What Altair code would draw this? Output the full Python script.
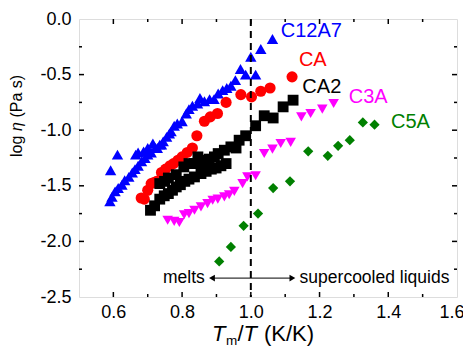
import altair as alt
import pandas as pd

# ---------------- data ----------------
series_names = ["C12A7", "CA", "CA2", "C3A", "C5A"]
series_colors = ["#0000ff", "#ff0000", "#000000", "#ff00ff", "#008000"]
series_shapes = ["triangle-up", "circle", "square", "triangle-down", "diamond"]

c12a7_x = [0.590, 0.596, 0.605, 0.614, 0.625, 0.633, 0.645, 0.655, 0.663, 0.672,
           0.682, 0.692, 0.700, 0.710, 0.722, 0.735, 0.745, 0.755, 0.763,
           0.592, 0.612, 0.665, 0.672, 0.688, 0.700, 0.715, 0.728, 0.740, 0.768,
           0.777, 0.786, 0.800, 0.812, 0.820, 0.830, 0.845, 0.852, 0.865, 0.880,
           0.893, 0.905, 0.918, 0.930, 0.942, 0.955, 0.970, 0.985, 1.000, 1.014,
           1.029, 1.063]
c12a7_y = [-1.64, -1.60, -1.55, -1.52, -1.49, -1.45, -1.42, -1.38, -1.35, -1.32,
           -1.28, -1.25, -1.22, -1.20, -1.16, -1.13, -1.10, -1.06, -1.03,
           -1.36, -1.22, -1.22, -1.20, -1.19, -1.16, -1.12, -1.16, -1.13, -1.01,
           -0.96, -0.94, -0.92, -0.85, -0.81, -0.78, -0.76, -0.71, -0.74, -0.72,
           -0.72, -0.67, -0.64, -0.62, -0.60, -0.55, -0.45, -0.50, -0.34, -0.50,
           -0.27, -0.18]

ca_x = [0.681, 0.690, 0.700, 0.710, 0.718, 0.726, 0.740, 0.752, 0.765, 0.775,
        0.788, 0.800, 0.815, 0.830, 0.843, 0.865, 0.882, 0.903, 0.928, 0.971,
        1.002, 1.029, 1.056, 1.120]
ca_y = [-1.61, -1.62, -1.54, -1.48, -1.47, -1.46, -1.38, -1.35, -1.32, -1.30,
        -1.27, -1.24, -1.20, -1.16, -1.05, -0.92, -0.88, -0.85, -0.75, -0.68,
        -0.70, -0.65, -0.62, -0.52]

ca2_x = [0.708, 0.720, 0.735, 0.748, 0.760, 0.772, 0.783, 0.795, 0.808, 0.820,
         0.836, 0.855, 0.870, 0.885, 0.899, 0.913, 0.928,
         0.735, 0.749, 0.760, 0.783, 0.805, 0.820, 0.836, 0.846, 0.865, 0.872,
         0.879, 0.894, 0.905, 0.923, 0.942, 0.957, 0.966, 0.985, 1.014, 1.039,
         1.065, 1.094, 1.123]
ca2_y = [-1.72, -1.68, -1.62, -1.59, -1.57, -1.54, -1.51, -1.49, -1.46, -1.44,
         -1.42, -1.39, -1.37, -1.35, -1.34, -1.32, -1.30,
         -1.48, -1.46, -1.43, -1.40, -1.33, -1.30, -1.30, -1.24, -1.31, -1.27,
         -1.26, -1.24, -1.21, -1.18, -1.15, -1.16, -1.09, -1.05, -0.96, -0.87,
         -0.89, -0.79, -0.73]

c3a_x = [0.758, 0.777, 0.792, 0.806, 0.820, 0.836, 0.855, 0.874, 0.889, 0.904,
         0.923, 0.937, 0.952, 0.976, 0.990, 1.014, 1.039, 1.063, 1.087, 1.116,
         1.147, 1.174, 1.208, 1.241]
c3a_y = [-1.81, -1.82, -1.83, -1.76, -1.75, -1.72, -1.69, -1.66, -1.63, -1.62,
         -1.60, -1.58, -1.55, -1.48, -1.42, -1.41, -1.21, -1.17, -1.12, -1.11,
         -0.88, -0.85, -0.81, -0.76]

c5a_x = [0.908, 0.942, 0.979, 1.021, 1.065, 1.114, 1.167, 1.224, 1.254, 1.288,
         1.326, 1.360]
c5a_y = [-2.18, -2.05, -1.86, -1.75, -1.52, -1.46, -1.19, -1.23, -1.14, -1.09,
         -0.93, -0.95]

label_x = [1.087, 1.140, 1.150, 1.285, 1.408]
label_y = [-0.11, -0.37, -0.61, -0.70, -0.93]

x_tick_values = [0.6, 0.8, 1.0, 1.2, 1.4, 1.6]
y_tick_values = [-2.5, -2.0, -1.5, -1.0, -0.5, 0.0]
x_minor = [0.7, 0.9, 1.1, 1.3, 1.5]
y_minor = [-2.25, -1.75, -1.25, -0.75, -0.25]
x_major_inner = [0.6, 0.8, 1.0, 1.2, 1.4]
y_major_inner = [-2.0, -1.5, -1.0, -0.5]

melt_line = 1.0
arrow_y = -2.33
arrow_left = 0.887
arrow_right = 1.121
melts_text_x = 0.866
super_text_x = 1.142

# ---------------- build ----------------
W, H = 378, 278
FONT = "Liberation Sans"

rows = []
for name, xs_, ys_ in zip(series_names,
                          [c12a7_x, ca_x, ca2_x, c3a_x, c5a_x],
                          [c12a7_y, ca_y, ca2_y, c3a_y, c5a_y]):
    for a, b in zip(xs_, ys_):
        rows.append({"x": a, "y": b, "series": name})
pts = pd.DataFrame(rows)
labels = pd.DataFrame({"x": label_x, "y": label_y, "series": series_names})

xs = alt.Scale(domain=[0.5, 1.6], nice=False, zero=False)
ys = alt.Scale(domain=[-2.5, 0.0], nice=False, zero=False)
col = alt.Scale(domain=series_names, range=series_colors)

xaxis = alt.Axis(values=x_tick_values, format=".1f", labelFontSize=18, tickSize=0,
                 domain=False, grid=False, title=None, labelPadding=6,
                 labelFlush=True, labelFlushOffset=7,
                 labelColor="black", labelFont=FONT)
yaxis = alt.Axis(values=y_tick_values, labelFontSize=18, tickSize=0,
                 labelExpr="datum.value < 0 ? '-' + format(-datum.value, '.1f') : format(datum.value, '.1f')",
                 domain=False, grid=False, title=None, labelPadding=8, labelFlush=False,
                 labelColor="black", labelFont=FONT)

points = alt.Chart(pts).mark_point(filled=True, opacity=1).encode(
    x=alt.X("x:Q", scale=xs, axis=xaxis),
    y=alt.Y("y:Q", scale=ys, axis=yaxis),
    color=alt.Color("series:N", scale=col, legend=None),
    shape=alt.Shape("series:N", scale=alt.Scale(domain=series_names, range=series_shapes), legend=None),
    size=alt.Size("series:N", scale=alt.Scale(domain=series_names, range=[130, 105, 85, 130, 125]), legend=None),
)

text_labels = alt.Chart(labels).mark_text(align="left", baseline="middle", fontSize=20, font=FONT).encode(
    x=alt.X("x:Q", scale=xs, axis=None),
    y=alt.Y("y:Q", scale=ys, axis=None),
    text="series:N",
    color=alt.Color("series:N", scale=col, legend=None),
)


def xtick_layer(vals, y0, y1):
    return alt.Chart(pd.DataFrame({"v": vals})).mark_rule(color="black", strokeWidth=1.5).encode(
        x=alt.X("v:Q", scale=xs, axis=None), y=alt.value(y0), y2=alt.value(y1))


def ytick_layer(vals, x0, x1):
    return alt.Chart(pd.DataFrame({"v": vals})).mark_rule(color="black", strokeWidth=1.5).encode(
        y=alt.Y("v:Q", scale=ys, axis=None), x=alt.value(x0), x2=alt.value(x1))


ticks = [
    xtick_layer(x_major_inner, H, H - 5), xtick_layer(x_minor, H, H - 3),
    xtick_layer(x_major_inner, 0, 5), xtick_layer(x_minor, 0, 3),
    ytick_layer(y_major_inner, 0, 5), ytick_layer(y_minor, 0, 3),
    ytick_layer(y_major_inner, W, W - 5), ytick_layer(y_minor, W, W - 3),
]

dashed = alt.Chart(pd.DataFrame({"v": [melt_line]})).mark_rule(
    color="black", strokeWidth=2, strokeDash=[7, 5]).encode(x=alt.X("v:Q", scale=xs, axis=None))

arrow_line = alt.Chart(pd.DataFrame({"a": [arrow_left], "b": [arrow_right], "y": [arrow_y]})).mark_rule(
    color="black", strokeWidth=1).encode(
    x=alt.X("a:Q", scale=xs, axis=None), x2="b:Q", y=alt.Y("y:Q", scale=ys, axis=None))

head_l = alt.Chart(pd.DataFrame({"x": [arrow_left], "y": [arrow_y]})).mark_point(
    filled=True, opacity=1, color="black", size=45, shape="triangle-left").encode(
    x=alt.X("x:Q", scale=xs, axis=None), y=alt.Y("y:Q", scale=ys, axis=None))
head_r = alt.Chart(pd.DataFrame({"x": [arrow_right], "y": [arrow_y]})).mark_point(
    filled=True, opacity=1, color="black", size=45, shape="triangle-right").encode(
    x=alt.X("x:Q", scale=xs, axis=None), y=alt.Y("y:Q", scale=ys, axis=None))

ann_left = alt.Chart(pd.DataFrame({"x": [melts_text_x], "y": [arrow_y], "t": ["melts"]})).mark_text(
    align="right", baseline="middle", fontSize=17.5, font=FONT, color="black").encode(
    x=alt.X("x:Q", scale=xs, axis=None), y=alt.Y("y:Q", scale=ys, axis=None), text="t:N")
ann_right = alt.Chart(pd.DataFrame({"x": [super_text_x], "y": [arrow_y], "t": ["supercooled liquids"]})).mark_text(
    align="left", baseline="middle", fontSize=17.5, font=FONT, color="black").encode(
    x=alt.X("x:Q", scale=xs, axis=None), y=alt.Y("y:Q", scale=ys, axis=None), text="t:N")


def piece(txt, px, py, size, italic=False, angle=0):
    kw = dict(fontSize=size, font=FONT, color="black", align="left", baseline="alphabetic")
    if italic:
        kw["fontStyle"] = "italic"
    if angle:
        kw["angle"] = angle
    return alt.Chart(pd.DataFrame({"t": [txt]})).mark_text(**kw).encode(
        x=alt.value(px), y=alt.value(py), text="t:N")


# y title: "log η (Pa s)" rotated (SVG drops leading spaces, so gaps are in positions)
ytitle = [
    piece("log", -57, 138, 16, angle=270),
    piece("η", -57, 112, 16, italic=True, angle=270),
    piece("(Pa s)", -57, 98.5, 16, angle=270),
]
# x title: "T_m/T (K/K)"
xtitle = [
    piece("T", 133, 322, 22, italic=True),
    piece("m", 147, 326, 13.5),
    piece("/", 158.5, 322, 22),
    piece("T", 164.5, 322, 22, italic=True),
    piece("(K/K)", 185, 322, 22),
]

chart = alt.layer(
    points, *ticks, dashed, arrow_line, head_l, head_r, text_labels, ann_left, ann_right, *ytitle, *xtitle
).resolve_axis(x="independent", y="independent").properties(
    width=W, height=H, autosize=alt.AutoSizeParams(type="none"),
    padding={"left": 71, "top": 11, "right": 6, "bottom": 53}
).configure_view(stroke="black", strokeWidth=2).configure(font=FONT)

chart.save("out.html", embed_options={"renderer": "svg", "actions": False})
